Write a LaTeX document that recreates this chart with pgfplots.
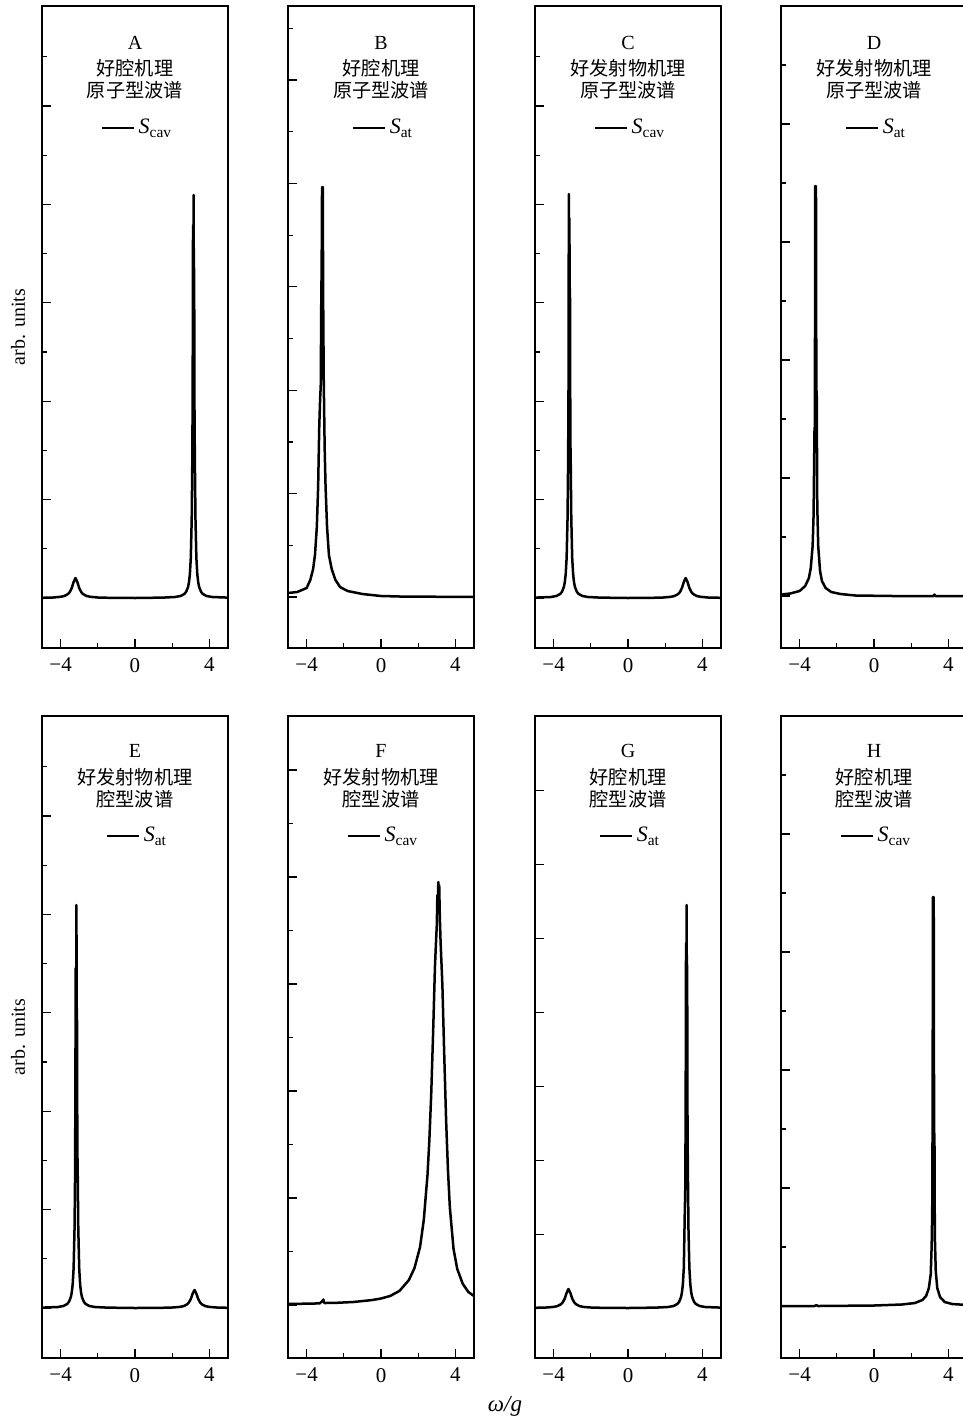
\documentclass[border=0pt]{standalone}
\usepackage{fontspec}
\setmainfont{Liberation Serif}
\newfontfamily\cjk{Noto Sans CJK SC}
\usepackage{pgfplots}
\pgfplotsset{compat=1.18}
\pgfplotsset{
  panel/.style={
    scale only axis, width=93pt, height=321pt,
    xmin=-5, xmax=5,
    xtick={-4,0,4}, xticklabels={−4,0,4}, minor xtick={-2,2},
    tick pos=left, tick align=inside,
    major tick length=4.5pt, minor tick length=2.6pt,
    yticklabels={},
    axis line style={line width=0.75pt},
    tick style={black, line width=0.6pt},
    xticklabel style={font=\fontsize{10.5}{11}\selectfont, yshift=-1.5pt},
    legend style={draw=none, fill=none, font=\fontsize{11}{12}\selectfont, at={(0.52,0.81)}, anchor=center},
    legend image code/.code={\draw[black, line width=0.7pt] (0pt,0pt) -- (16pt,0pt);},
  },
  curve/.style={black, line width=1.25pt, line join=round, mark=none},
}
\tikzset{
  ttl/.style={font=\fontsize{10}{11}\selectfont},
  cn/.style={font={\fontsize{9.6}{11}\selectfont\cjk}},
}
\begin{document}
\begin{tikzpicture}
% ---------------- Row 1 ----------------
\begin{axis}[panel, at={(21pt,-3pt)}, anchor=north west, ymin=-50, ymax=592,
  ytick={0,98.4,196.8,295.2,393.6,492}, minor ytick={49.2,147.6,246,344.4,442.8,541.2}]
\addplot[curve] coordinates {(-5,0.2) (-4.4,0.5) (-4.0,1.2) (-3.8,2) (-3.6,4) (-3.5,6.2) (-3.4,10) (-3.3,16) (-3.2,20) (-3.1,16) (-3.0,10) (-2.9,6.2) (-2.8,4) (-2.6,2) (-2.4,1.2) (-2.0,0.5) (-1.4,0.2) (0,0) (1.5,0.4) (2.15,1.0) (2.45,2.0) (2.65,4.0) (2.75,6.2) (2.85,10.9) (2.9,15.5) (2.95,23.7) (3.0,40) (3.05,80) (3.08,136) (3.10,201) (3.12,373) (3.13,250) (3.15,403) (3.17,280) (3.18,330) (3.20,180) (3.22,136) (3.25,80) (3.3,40) (3.35,23.7) (3.4,15.5) (3.45,10.9) (3.55,6.2) (3.65,4.0) (3.85,2.0) (4.15,1.0) (5.0,0.4)};
\addlegendentry{\textit{S}\textsubscript{cav}}
\node[ttl] at (rel axis cs:0.5,0.942) {A};
\node[cn] at (rel axis cs:0.5,0.903) {好腔机理};
\node[cn] at (rel axis cs:0.5,0.869) {原子型波谱};
\end{axis}

\begin{axis}[panel, at={(144pt,-3pt)}, anchor=north west, ymin=-51, ymax=591,
  ytick={0,103.4,206.8,310.2,413.6,517}, minor ytick={51.7,155.1,258.5,361.9,465.3,568.7}]
\addplot[curve] coordinates {(-5,4) (-4.5,5) (-4.0,9) (-3.8,17) (-3.65,28) (-3.55,42) (-3.45,70) (-3.38,110) (-3.32,170) (-3.27,200) (-3.24,210) (-3.21,300) (-3.19,330) (-3.17,410) (-3.15,380) (-3.13,410) (-3.11,300) (-3.08,220) (-3.03,150) (-2.98,110) (-2.9,70) (-2.8,42) (-2.65,28) (-2.45,17) (-2.2,10) (-1.8,6) (-1.0,3) (0,1) (1,0.5) (5,0)};
\addlegendentry{\textit{S}\textsubscript{at}}
\node[ttl] at (rel axis cs:0.5,0.942) {B};
\node[cn] at (rel axis cs:0.5,0.903) {好腔机理};
\node[cn] at (rel axis cs:0.5,0.869) {原子型波谱};
\end{axis}

\begin{axis}[panel, at={(267.5pt,-3pt)}, anchor=north west, ymin=-50, ymax=592,
  ytick={0,98.4,196.8,295.2,393.6,492}, minor ytick={49.2,147.6,246,344.4,442.8,541.2}]
\addplot[curve] coordinates {(-5,0.4) (-4.15,1.0) (-3.85,2.0) (-3.65,4.0) (-3.55,6.2) (-3.45,10.9) (-3.4,15.5) (-3.35,23.7) (-3.3,40) (-3.25,80) (-3.22,136) (-3.20,201) (-3.18,404) (-3.17,250) (-3.15,380) (-3.13,260) (-3.12,310) (-3.10,160) (-3.08,136) (-3.05,80) (-3.0,40) (-2.95,23.7) (-2.9,15.5) (-2.85,10.9) (-2.75,6.2) (-2.65,4.0) (-2.45,2.0) (-2.15,1.0) (-1.5,0.4) (0,0) (1.3,0.2) (1.9,0.5) (2.3,1.2) (2.5,2) (2.7,4) (2.8,6.2) (2.9,10) (3.0,16) (3.1,20) (3.2,16) (3.3,10) (3.4,6.2) (3.5,4) (3.7,2) (3.9,1.2) (4.3,0.5) (5,0.2)};
\addlegendentry{\textit{S}\textsubscript{cav}}
\node[ttl] at (rel axis cs:0.5,0.942) {C};
\node[cn] at (rel axis cs:0.5,0.903) {好发射物机理};
\node[cn] at (rel axis cs:0.5,0.869) {原子型波谱};
\end{axis}

\begin{axis}[panel, at={(390.5pt,-3pt)}, anchor=north west, ymin=-52, ymax=590,
  ytick={0,118,236,354,472}, minor ytick={59,177,295,413,531}]
\addplot[curve] coordinates {(-5,1.5) (-4.5,2.5) (-4.0,5) (-3.7,10) (-3.5,18) (-3.4,28) (-3.3,50) (-3.25,80) (-3.2,165) (-3.18,170) (-3.16,410) (-3.14,400) (-3.12,410) (-3.10,200) (-3.08,205) (-3.05,90) (-3.0,50) (-2.9,25) (-2.8,15) (-2.6,8) (-2.3,4) (-1.8,2) (-1,0.5) (1,0) (3.2,0) (3.25,1.5) (3.3,0) (5,0)};
\addlegendentry{\textit{S}\textsubscript{at}}
\node[ttl] at (rel axis cs:0.5,0.942) {D};
\node[cn] at (rel axis cs:0.5,0.903) {好发射物机理};
\node[cn] at (rel axis cs:0.5,0.869) {原子型波谱};
\end{axis}

% ---------------- Row 2 ----------------
\begin{axis}[panel, at={(21pt,-358pt)}, anchor=north west, ymin=-50, ymax=592,
  ytick={0,98.4,196.8,295.2,393.6,492}, minor ytick={49.2,147.6,246,344.4,442.8,541.2},
  legend style={at={(0.52,0.813)}}]
\addplot[curve] coordinates {(-5,0.4) (-4.15,1.0) (-3.85,2.0) (-3.65,4.0) (-3.55,6.2) (-3.45,10.9) (-3.4,15.5) (-3.35,23.7) (-3.3,40) (-3.25,80) (-3.22,136) (-3.20,250) (-3.19,340) (-3.17,250) (-3.15,403) (-3.13,280) (-3.12,300) (-3.10,160) (-3.08,136) (-3.05,80) (-3.0,40) (-2.95,23.7) (-2.9,15.5) (-2.85,10.9) (-2.75,6.2) (-2.65,4.0) (-2.45,2.0) (-2.15,1.0) (-1.5,0.4) (0,0) (1.4,0.2) (2.0,0.5) (2.4,1.1) (2.6,1.8) (2.8,3.6) (2.9,5.6) (3.0,9) (3.1,14.4) (3.2,18) (3.3,14.4) (3.4,9) (3.5,5.6) (3.6,3.6) (3.8,1.8) (4.0,1.1) (4.4,0.5) (5,0.2)};
\addlegendentry{\textit{S}\textsubscript{at}}
\node[ttl] at (rel axis cs:0.5,0.945) {E};
\node[cn] at (rel axis cs:0.5,0.905) {好发射物机理};
\node[cn] at (rel axis cs:0.5,0.871) {腔型波谱};
\end{axis}

\begin{axis}[panel, at={(144pt,-358pt)}, anchor=north west, ymin=-53, ymax=589,
  ytick={0,107,214,321,428,535}, minor ytick={53.5,160.5,267.5,374.5,481.5},
  legend style={at={(0.52,0.813)}}]
\addplot[curve] coordinates {(-5,1.0) (-3.3,1.6) (-3.15,4) (-3.1,5.5) (-3.05,2) (-2.5,2.1) (-1.5,3.0) (-0.5,4.9) (0,6.5) (0.5,9.1) (1.0,14.2) (1.5,25) (1.8,37) (2.1,58) (2.3,85) (2.5,130) (2.6,165) (2.7,211) (2.8,271) (2.9,338) (2.95,360) (3.0,380) (3.03,410) (3.06,395) (3.08,423) (3.11,405) (3.13,420) (3.16,390) (3.2,365) (3.3,320) (3.4,250) (3.5,185) (3.6,135) (3.7,98) (3.9,56) (4.1,36) (4.4,21) (4.7,13) (5.0,9)};
\addlegendentry{\textit{S}\textsubscript{cav}}
\node[ttl] at (rel axis cs:0.5,0.945) {F};
\node[cn] at (rel axis cs:0.5,0.905) {好发射物机理};
\node[cn] at (rel axis cs:0.5,0.871) {腔型波谱};
\end{axis}

\begin{axis}[panel, at={(267.5pt,-358pt)}, anchor=north west, ymin=-50, ymax=592,
  ytick={0,73.9,147.8,221.7,295.6,369.5,443.4,517.3},
  legend style={at={(0.52,0.813)}}]
\addplot[curve] coordinates {(-5,0.2) (-4.4,0.5) (-4.0,1.1) (-3.8,1.9) (-3.6,3.8) (-3.5,5.9) (-3.4,9.5) (-3.3,15.2) (-3.2,19) (-3.1,15.2) (-3.0,9.5) (-2.9,5.9) (-2.8,3.8) (-2.6,1.9) (-2.4,1.1) (-2.0,0.5) (-1.4,0.2) (0,0) (1.5,0.4) (2.15,1.0) (2.45,2.0) (2.65,4.0) (2.75,6.2) (2.85,10.9) (2.9,15.5) (2.95,23.7) (3.0,40) (3.05,93) (3.08,120) (3.10,201) (3.12,365) (3.13,250) (3.15,403) (3.17,280) (3.18,343) (3.20,180) (3.22,136) (3.25,80) (3.3,40) (3.35,23.7) (3.4,15.5) (3.45,10.9) (3.55,6.2) (3.65,4.0) (3.85,2.0) (4.15,1.0) (5.0,0.4)};
\addlegendentry{\textit{S}\textsubscript{at}}
\node[ttl] at (rel axis cs:0.5,0.945) {G};
\node[cn] at (rel axis cs:0.5,0.905) {好腔机理};
\node[cn] at (rel axis cs:0.5,0.871) {腔型波谱};
\end{axis}

\begin{axis}[panel, at={(390.5pt,-358pt)}, anchor=north west, ymin=-52, ymax=590,
  ytick={0,118,236,354,472}, minor ytick={59,177,295,413,531},
  legend style={at={(0.52,0.813)}}]
\addplot[curve] coordinates {(-5,0) (-3.2,0) (-3.1,0.8) (-3.0,0) (0,0.5) (1.5,1.5) (2.2,3) (2.6,6) (2.8,10) (2.95,18) (3.05,32) (3.1,60) (3.13,95) (3.15,189) (3.17,409) (3.19,400) (3.21,409) (3.23,175) (3.25,170) (3.27,70) (3.32,35) (3.4,18) (3.55,9) (3.8,4) (4.2,2) (5,1)};
\addlegendentry{\textit{S}\textsubscript{cav}}
\node[ttl] at (rel axis cs:0.5,0.945) {H};
\node[cn] at (rel axis cs:0.5,0.905) {好腔机理};
\node[cn] at (rel axis cs:0.5,0.871) {腔型波谱};
\end{axis}

\node[rotate=90, font=\fontsize{10}{11}\selectfont] at (9pt,-163.5pt) {arb. units};
\node[rotate=90, font=\fontsize{10}{11}\selectfont] at (9pt,-518.5pt) {arb. units};
\node[font=\fontsize{11.5}{12}\selectfont] at (252.5pt,-703pt) {\textit{ω/g}};
\pgfresetboundingbox
\path[use as bounding box] (0pt,0pt) rectangle (481.5pt,-709pt);
\end{tikzpicture}
\end{document}
